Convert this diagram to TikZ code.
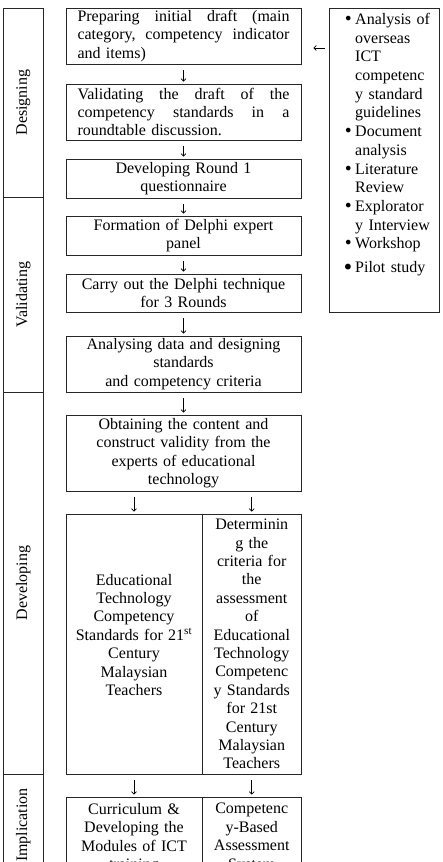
\documentclass[tikz,border=0pt]{standalone}
\usepackage{fontspec}
\setmainfont{Liberation Serif}
\newfontfamily\dvs{DejaVu Sans}
\usetikzlibrary{arrows.meta,calc}
\newcommand{\bl}{\makebox[9pt][l]{\hspace*{-2.7pt}{\fontsize{16}{16}\dvs •}}}
\newcommand{\bigbl}{\makebox[9pt][l]{\hspace*{-4pt}\raisebox{-1.5pt}{\fontsize{20}{20}\dvs •}}}
\newcommand{\ind}{\hspace*{9pt}}
\newcommand{\jl}[1]{\makebox[212pt][l]{#1}}
\begin{document}
\begin{tikzpicture}[x=1pt,y=-1pt,
  every node/.style={font=\fontsize{16}{18.4}\selectfont, inner sep=0pt},
  frame/.style={draw=black!85, line width=0.9pt},
  stepbox/.style={frame, minimum width=235pt, text width=212pt, align=center},
  cellbox/.style={frame, align=center},
  phase/.style={frame, rotate=90, minimum height=39.5pt},
  arr/.style={-{Straight Barb[length=2.5pt,width=5pt]}, line width=0.6pt, shorten <=6pt, shorten >=2pt}]
\useasboundingbox (0,0) rectangle (442,862);
\clip (0,0) rectangle (442,862);
% phases
\node[phase, minimum width=189pt] (ph1) at (23.25,102.5) {Designing};
\node[phase, minimum width=195pt] (ph2) at (23.25,294.5) {Validating};
\node[phase, minimum width=382pt] (ph3) at (23.25,583) {Developing};
\node[phase, minimum width=102pt] (ph4) at (23.25,825) {Implication};
% main boxes
\node[stepbox, minimum height=56pt, align=left] (b1) at (183.5,36)
  {\jl{Preparing\hfill initial\hfill draft\hfill (main}\\\jl{category,\hfill competency\hfill indicator}\\and items)};
\node[stepbox, minimum height=56pt, align=left] (b2) at (183.5,112)
  {\jl{Validating\hfill the\hfill draft\hfill of\hfill the}\\\jl{competency\hfill standards\hfill in\hfill a}\\roundtable discussion.};
\node[stepbox, minimum height=39pt] (b3) at (183.5,178.5) {Developing Round 1\\questionnaire};
\node[stepbox, minimum height=39pt] (b4) at (183.5,235.5) {Formation of Delphi expert\\panel};
\node[stepbox, minimum height=38pt] (b5) at (183.5,293) {Carry out the Delphi technique\\for 3 Rounds};
\node[stepbox, minimum height=56pt] (b6) at (183.5,364) {Analysing data and designing\\standards\\and competency criteria};
\node[stepbox, minimum height=76pt] (b7) at (183.5,453) {Obtaining the content and\\construct validity from the\\experts of educational\\technology};
\node[cellbox, minimum width=136pt, minimum height=260pt, text width=125pt] (b8l) at (134,644)
  {Educational\\Technology\\Competency\\Standards for 21\textsuperscript{st}\\Century\\Malaysian\\Teachers\\\mbox{}};
\node[cellbox, minimum width=99.5pt, minimum height=260pt, text width=95pt] (b8r) at (251.75,644)
  {Determinin\\g the\\criteria for\\the\\assessment\\of\\Educational\\Technology\\Competenc\\y Standards\\for 21st\\Century\\Malaysian\\Teachers};
\node[cellbox, minimum width=136pt, minimum height=82pt, text width=125pt] (b9l) at (134,838)
  {Curriculum \&\\Developing the\\Modules of ICT\\training};
\node[cellbox, minimum width=99.5pt, minimum height=82pt, text width=95pt] (b9r) at (251.75,838)
  {Competenc\\y-Based\\Assessment\\System};
% right box
\node[frame, minimum width=110pt, minimum height=304pt] (rb) at (384,160) {};
\node[anchor=north west, align=left, text width=92pt, font=\fontsize{16}{18.7}\selectfont] (rbt) at (346,13)
  {\bl Analysis of\\
   \ind overseas\\
   \ind ICT\\
   \ind competenc\\
   \ind y standard\\
   \ind guidelines\\
   \bl Document\\
   \ind analysis\\
   \bl Literature\\
   \ind Review\\
   \bl Explorator\\
   \ind y Interview\\
   \bl Workshop\\[5pt]
   \bigbl Pilot study};
% connectors
\draw[arr] (b1) -- (b2);
\draw[arr] (b2) -- (b3);
\draw[arr] (b3) -- (b4);
\draw[arr] (b4) -- (b5);
\draw[arr] (b5) -- (b6);
\draw[arr] (b6) -- (b7);
\draw[arr] (b7.south -| b8l.north) -- (b8l.north);
\draw[arr] (b7.south -| b8r.north) -- (b8r.north);
\draw[arr] (b8l) -- (b9l);
\draw[arr] (b8r) -- (b9r);
\coordinate (la) at (329,48);
\draw[arr, shorten <=4pt, shorten >=12pt] (rb.west |- la) -- (b1.east |- la);
\end{tikzpicture}
\end{document}
